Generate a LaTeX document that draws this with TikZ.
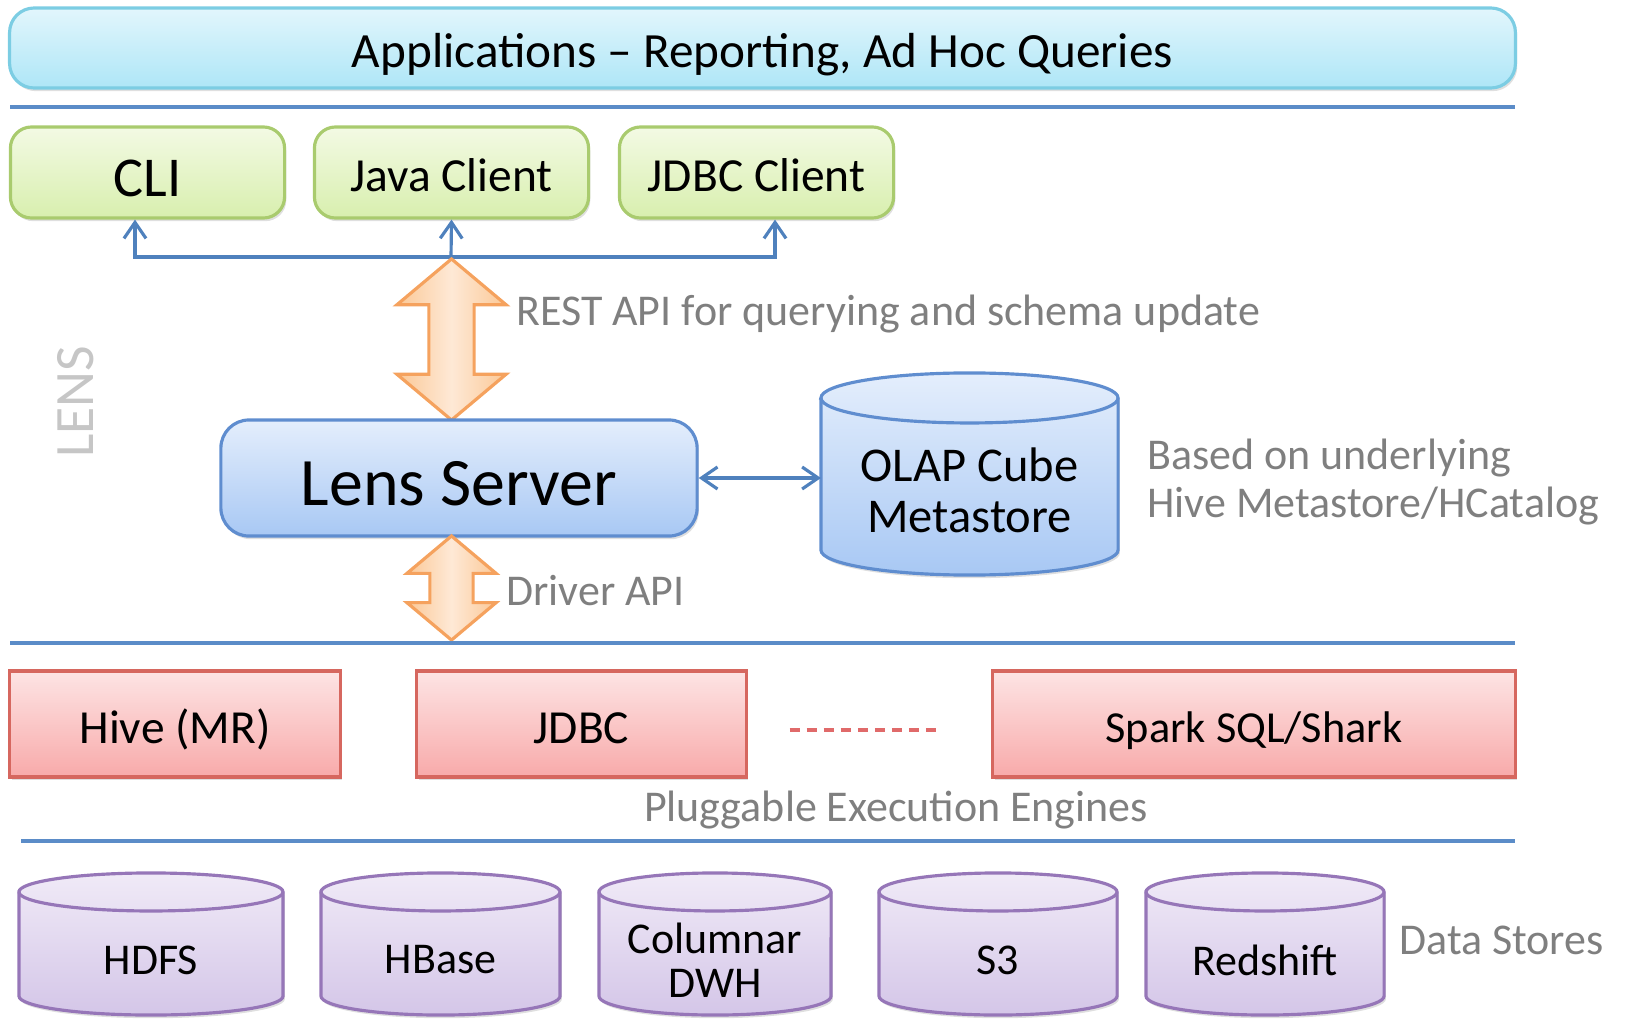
\documentclass[tikz,border=0pt]{standalone}
\usepackage{fontspec}
\setmainfont{Carlito}
\usetikzlibrary{shapes.arrows,shadows,arrows.meta}
\pgfdeclarelayer{background}
\pgfsetlayers{background,main}

\definecolor{appline}{HTML}{7CCDE3}
\definecolor{apptop}{HTML}{E2F6FC}
\definecolor{appbot}{HTML}{AEE6F7}
\definecolor{cliline}{HTML}{A9CB6E}
\definecolor{clitop}{HTML}{F3FAE4}
\definecolor{clibot}{HTML}{D8EFAE}
\definecolor{srvline}{HTML}{5F8DCF}
\definecolor{srvtop}{HTML}{E4EEFC}
\definecolor{srvbot}{HTML}{A8C8F4}
\definecolor{engline}{HTML}{D6675F}
\definecolor{engtop}{HTML}{FDE4E4}
\definecolor{engbot}{HTML}{F8AAAA}
\definecolor{dbline}{HTML}{9676B8}
\definecolor{dbtop}{HTML}{F0EAF7}
\definecolor{dbbot}{HTML}{D4C6E8}
\definecolor{fatline}{HTML}{F5A25E}
\definecolor{fatmid}{HTML}{FEE9D6}
\definecolor{fatside}{HTML}{FBC896}
\definecolor{linkblue}{HTML}{4F81BD}
\definecolor{sepblue}{HTML}{5B8CC8}
\definecolor{notegray}{HTML}{7F7F7F}
\definecolor{lensgray}{HTML}{C6C6C6}
\definecolor{dashred}{HTML}{E06A6A}

\tikzset{
  boxshadow/.style={drop shadow={shadow xshift=0.5pt,shadow yshift=-0.9pt,opacity=0.25}},
  appbar/.style={rounded corners=7pt,draw=appline,line width=0.9pt,top color=apptop,bottom color=appbot,boxshadow,
    text height=11.1pt,text depth=0pt,minimum width=150.5mm,minimum height=8mm,font=\fontsize{14}{16}\selectfont},
  client/.style={rounded corners=6pt,draw=cliline,line width=0.9pt,top color=clitop,bottom color=clibot,boxshadow,
    text height=11pt,text depth=0pt,minimum width=27.4mm,minimum height=9.1mm,font=\fontsize{13.5}{16}\selectfont},
  server/.style={rounded corners=8pt,draw=srvline,line width=0.9pt,top color=srvtop,bottom color=srvbot,boxshadow,
    text height=15.9pt,text depth=0pt,minimum width=47.6mm,minimum height=11.6mm,font=\fontsize{19.3}{22}\selectfont},
  engine/.style={draw=engline,line width=0.9pt,top color=engtop,bottom color=engbot,boxshadow,
    text height=11pt,text depth=0pt,minimum height=10.6mm,font=\fontsize{13.5}{16}\selectfont},
  cyltext/.style={outer sep=0pt,inner sep=0pt,align=center},
  metabody/.style={draw=srvline,line width=0.9pt,top color=srvtop,bottom color=srvbot,boxshadow},
  metarim/.style={draw=srvline,line width=0.9pt},
  storebody/.style={draw=dbline,line width=0.9pt,top color=dbtop,bottom color=dbbot,boxshadow},
  storerim/.style={draw=dbline,line width=0.9pt},
  fat/.style={double arrow,shape border rotate=90,draw=fatline,line width=0.9pt,left color=fatside,right color=fatside,
    middle color=fatmid,double arrow tip angle=100},
  link/.style={draw=linkblue,line width=0.9pt,>={Straight Barb[length=1.6mm,width=2.2mm]}},
  sep/.style={draw=sepblue,line width=1.4pt},
  note/.style={text=notegray,font=\fontsize{12.5}{13.4}\selectfont,align=left}
}

\begin{document}
\begin{tikzpicture}[x=0.01cm,y=-0.01cm]
\useasboundingbox (0,0) rectangle (1625,1018);

% applications and clients
\node[appbar] (apps) at (762.5,48) {Applications – Reporting, Ad Hoc Queries};
\draw[sep] (10,107) -- (1515,107);
\node[client,font=\fontsize{16}{18}\selectfont,text height=13.5pt] (cli) at (147.5,172.5) {CLI};
\node[client] (java) at (451.5,172.5) {Java Client};
\node[client] (jdbcc) at (756.5,172.5) {JDBC Client};
\coordinate (hub) at (451,257);
\draw[link,<->] ([xshift=-1.25mm]cli.south) |- (hub) -| ([xshift=1.85mm]jdbcc.south);
\draw[link,->] (hub) -- (java.south);

% lens server
\node[rotate=90,text=lensgray,font=\fontsize{15.8}{18}\selectfont] (lenslbl) at (76,402) {LENS};
\node[fat,minimum height=16.1mm,inner sep=2.1mm,double arrow head extend=3.2mm] (rest) at (451.5,339.5) {};
\node[note,anchor=west] (restlbl) at (504,314) {REST API for querying and schema update};
\node[server] (lens) at (459,478) {Lens Server};
\node[cyltext,minimum width=29.7mm,font=\fontsize{13.8}{14.4}\selectfont] (olap) at (969.5,490) {OLAP Cube\\Metastore};
\begin{pgfonlayer}{background}
  \path[metabody] ([yshift=9.2mm]olap.west) -- ([yshift=-6mm]olap.west) arc (180:360:14.85mm and 2.5mm)
    -- ([yshift=9.2mm]olap.east) arc (0:180:14.85mm and 2.5mm) -- cycle;
  \draw[metarim] ([yshift=9.2mm]olap.west) arc (180:360:14.85mm and 2.5mm);
\end{pgfonlayer}
\draw[link,<->] (lens.east) -- (lens.east -| olap.west);
\node[note,anchor=west] (hivenote) at (1135,482) {Based on underlying\\Hive Metastore/HCatalog};
\node[fat,minimum height=10.4mm,inner sep=2mm,double arrow head extend=2.3mm] (drv) at (451.5,588) {};
\node[note,anchor=west] (drvlbl) at (494,591) {Driver API};
\draw[sep] (10,643) -- (1515,643);

% execution engines
\node[engine,minimum width=33mm] (hive) at (175,724) {Hive (MR)};
\node[engine,minimum width=32.9mm] (jdbc) at (581.5,724) {JDBC};
\node[engine,minimum width=52.2mm,font=\fontsize{12.6}{15}\selectfont,text height=10.5pt] (spark) at (1254,724) {Spark SQL/Shark};
\draw[dashred,line width=0.9pt,dash pattern=on 1mm off 0.7mm]
  ([xshift=4.2mm,yshift=-0.6mm]jdbc.east) -- ([xshift=-5.5mm,yshift=-0.6mm]spark.west);
\node[note] (pluglbl) at (896,810) {Pluggable Execution Engines};
\draw[sep] (21,841) -- (1515,841);

% data stores
\foreach \x/\w/\name/\txt in {151/26.4/hdfs/HDFS,440.5/23.9/hbase/HBase,715/23.2/dwh/{Columnar\\DWH},
    998/23.8/sthree/S3,1265/23.8/redshift/Redshift}{
  \node[cyltext,minimum width=\w mm,font=\fontsize{12.5}{12.6}\selectfont] (\name) at (\x,960) {\txt};
  \begin{pgfonlayer}{background}
    \path[storebody] ([yshift=6.8mm]\name.west) -- ([yshift=-3.6mm]\name.west) arc (180:360:\w*0.5mm and 1.9mm)
      -- ([yshift=6.8mm]\name.east) arc (0:180:\w*0.5mm and 1.9mm) -- cycle;
    \draw[storerim] ([yshift=6.8mm]\name.west) arc (180:360:\w*0.5mm and 1.9mm);
  \end{pgfonlayer}
}
\node[note,anchor=west] (storelbl) at (1387,940) {Data Stores};
\end{tikzpicture}
\end{document}
